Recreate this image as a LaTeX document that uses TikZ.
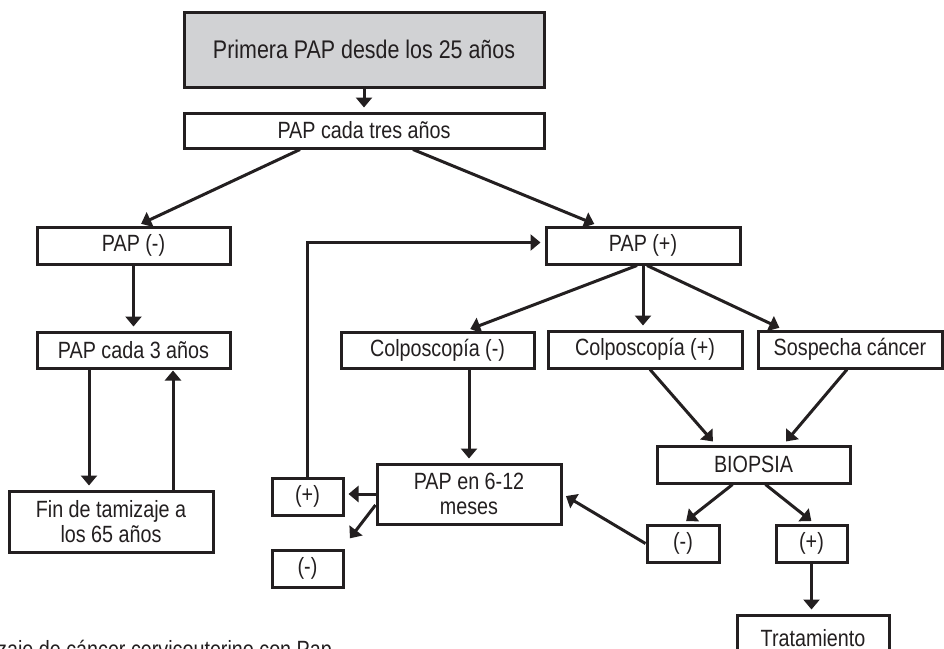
\documentclass[tikz,border=0pt]{standalone}
\usepackage{fontspec}
\setmainfont{Liberation Sans}[FakeStretch=0.84]
\usetikzlibrary{arrows.meta}
\definecolor{ink}{HTML}{231F20}
\definecolor{topfill}{HTML}{D1D2D4}
\begin{document}
\begin{tikzpicture}[x=1pt,y=-1pt,
  box/.style={draw=ink,line width=3pt,fill=white,inner sep=0pt,align=center,
    text=ink,font=\fontsize{23.5}{24.5}\selectfont},
  arr/.style={draw=ink,line width=3pt,-{Triangle[length=10pt,width=16pt]},shorten >=4pt},
  ln/.style={draw=ink,line width=3pt}]
\useasboundingbox (0,0) rectangle (944,648);
\fill[white] (0,0) rectangle (944,648);
% nodes
\node[box,fill=topfill,minimum width=360pt,minimum height=75pt,font=\fontsize{25.5}{27}\selectfont] (top) at (364,49.5) {Primera PAP desde los 25 años};
\node[box,minimum width=360pt,minimum height=35pt] (tres) at (364,130.5) {PAP cada tres años};
\node[box,minimum width=193pt,minimum height=37pt] (papneg) at (133.5,245.5) {PAP (-)};
\node[box,minimum width=194pt,minimum height=37pt] (pappos) at (643,245.5) {PAP (+)};
\node[box,minimum width=193pt,minimum height=36pt] (cada3) at (133.5,350) {PAP cada 3 años};
\node[box,minimum width=204pt,minimum height=61pt] (fin) at (111,521.5) {Fin de tamizaje a\\los 65 años};
\node[box,minimum width=193pt,minimum height=36pt] (colneg) at (437.5,350) {Colposcopía (-)};
\node[box,minimum width=194pt,minimum height=37pt] (colpos) at (645,349.5) {Colposcopía (+)};
\node[box,minimum width=184pt,minimum height=37pt] (sosp) at (850,349.5) {Sospecha cáncer};
\node[box,minimum width=193pt,minimum height=37pt] (biopsia) at (753.5,464.5) {BIOPSIA};
\node[box,minimum width=184pt,minimum height=60pt] (pap612) at (469,494) {PAP en 6-12\\meses};
\node[box,minimum width=71pt,minimum height=37pt] (plus) at (307.5,496.5) {(+)};
\node[box,minimum width=71pt,minimum height=37pt] (minus) at (307.5,568.5) {(-)};
\node[box,minimum width=72pt,minimum height=37pt] (bneg) at (683,543.5) {(-)};
\node[box,minimum width=71pt,minimum height=37pt] (bpos) at (811.5,543.5) {(+)};
\node[box,minimum width=152pt,minimum height=46pt] (trat) at (813,638) {Tratamiento};
\node[anchor=base west,inner sep=0pt,text=ink,font=\fontsize{23.5}{24.5}\selectfont] (cap) at (-3,657) {zaje de cáncer cervicouterino con Pap};
% connectors
\draw[arr] (top.south) -- (tres.north);
\draw[arr] ([xshift=-64pt]tres.south) -- ([xshift=4pt]papneg.north);
\draw[arr] ([xshift=49pt]tres.south) -- ([xshift=-45pt]pappos.north);
\draw[arr] (papneg.south) -- (cada3.north);
\draw[arr] ([xshift=-44.5pt]cada3.south) -- ([xshift=-44.5pt]cada3.south |- fin.north);
\draw[arr,shorten >=1pt] ([xshift=62pt]fin.north) -- ([xshift=62pt]fin.north |- cada3.south);
\draw[arr] ([xshift=-6pt]pappos.south) -- ([xshift=29pt]colneg.north);
\draw[arr] (pappos.south) -- (pappos.south |- colpos.north);
\draw[arr] ([xshift=4pt]pappos.south) -- ([xshift=-67pt]sosp.north);
\draw[arr] (colneg.south -| pap612.north) -- (pap612.north);
\draw[arr] ([xshift=5pt]colpos.south) -- ([xshift=-38pt]biopsia.north);
\draw[arr] ([xshift=-3pt]sosp.south) -- ([xshift=30pt]biopsia.north);
\draw[arr] ([xshift=-21pt]biopsia.south) -- (bneg.north);
\draw[arr] ([xshift=12pt]biopsia.south) -- ([xshift=3pt]bpos.north);
\draw[arr] (bpos.south) -- (bpos.south |- trat.north);
\draw[arr] (bneg.west) -- (pap612.east);
\draw[arr] (pap612.west) -- (pap612.west -| plus.east);
\draw[arr] ([yshift=-11pt]pap612.west) -- ([xshift=3pt,yshift=7pt]minus.north east);
\draw[arr] (plus.north) |- ([yshift=3pt]pappos.west);
\end{tikzpicture}
\end{document}
